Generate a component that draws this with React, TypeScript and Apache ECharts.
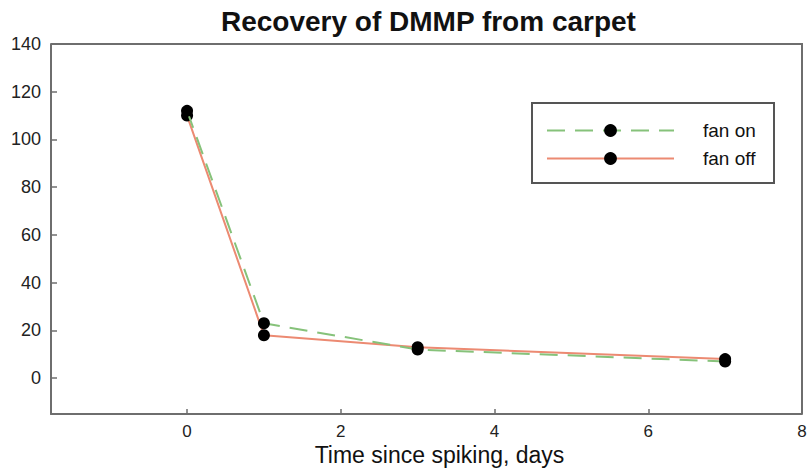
import React, { useEffect, useRef } from "react";
import * as echarts from "echarts";

// Days since spiking
const days = [0, 1, 3, 7];
// Recovered DMMP
const fanOn = [112, 23, 12, 7];
const fanOff = [110, 18, 13, 8];
const xTicks = [0, 2, 4, 6, 8];
const yTicks = [0, 20, 40, 60, 80, 100, 120, 140];

const FONT = "'Liberation Sans', Arial, sans-serif";
const AXIS_COLOR = "#6e6e6e";

export default function App() {
  const ref = useRef<HTMLDivElement>(null);

  useEffect(() => {
    document.body.style.margin = "0";
    if (!ref.current) return;
    const chart = echarts.init(ref.current, null, { renderer: "svg" });
    const axisLine = { show: true, onZero: false, lineStyle: { color: AXIS_COLOR, width: 2 } };
    chart.setOption({
      animation: false,
      backgroundColor: "#ffffff",
      title: {
        text: "Recovery of DMMP from carpet",
        left: 216,
        top: 2,
        textStyle: { fontFamily: FONT, fontSize: 28, fontWeight: "bold", color: "#111" },
      },
      grid: { left: 51, right: 6, top: 44, bottom: 56, containLabel: false, outerBoundsMode: "none" },
      legend: {
        orient: "vertical",
        left: 546,
        top: 121,
        itemWidth: 127,
        itemHeight: 16,
        itemGap: 9,
        padding: 0,
        textStyle: { fontFamily: FONT, fontSize: 19, color: "#111", padding: [0, 0, 0, 24] },
        data: ["fan on", "fan off"],
      },
      xAxis: {
        type: "value",
        min: -1.77,
        max: 8,
        name: "Time since spiking, days",
        nameLocation: "middle",
        nameGap: 29,
        nameMoveOverlap: false,
        nameTextStyle: { fontFamily: FONT, fontSize: 23, lineHeight: 24, color: "#111", padding: [0, 0, 0, 26] },
        axisLine,
        axisTick: { show: true, inside: true, length: 5, customValues: xTicks, lineStyle: { color: AXIS_COLOR, width: 1.5 } },
        axisLabel: { customValues: xTicks, margin: 8, fontFamily: FONT, fontSize: 17, lineHeight: 18, color: "#222" },
        splitLine: { show: false },
      },
      yAxis: {
        type: "value",
        min: -15,
        max: 140,
        axisLine,
        axisTick: { show: true, inside: true, length: 6, customValues: yTicks, lineStyle: { color: AXIS_COLOR, width: 1.5 } },
        axisLabel: { customValues: yTicks, margin: 10, fontFamily: FONT, fontSize: 18, color: "#222" },
        splitLine: { show: false },
      },
      graphic: [
        // plot frame (top and right edges)
        {
          type: "polyline",
          shape: { points: [[51, 44], [802, 44], [802, 414]] },
          style: { stroke: AXIS_COLOR, lineWidth: 2, fill: null },
          silent: true,
        },
        // legend box
        {
          type: "rect",
          shape: { x: 532, y: 103, width: 242, height: 80 },
          style: { stroke: "#555", lineWidth: 2, fill: "rgba(0,0,0,0)" },
          z: 1,
          silent: true,
        },
      ],
      series: [
        {
          name: "fan on",
          type: "line",
          data: days.map((d, i) => [d, fanOn[i]]),
          symbol: "circle",
          symbolSize: 12,
          itemStyle: { color: "#000" },
          lineStyle: { color: "#86c27a", width: 2, type: [18, 10] },
          z: 3,
        },
        {
          name: "fan off",
          type: "line",
          data: days.map((d, i) => [d, fanOff[i]]),
          symbol: "circle",
          symbolSize: 12,
          itemStyle: { color: "#000" },
          lineStyle: { color: "#ec8a72", width: 2 },
          z: 2,
        },
      ],
    });
    return () => chart.dispose();
  }, []);

  return <div ref={ref} style={{ width: 808, height: 470 }} />;
}
